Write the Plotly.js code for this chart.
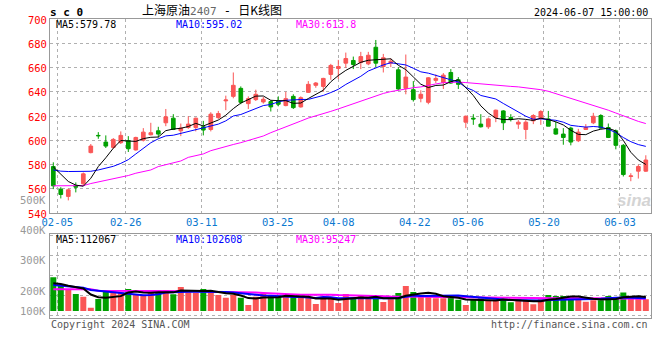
<!DOCTYPE html>
<html><head><meta charset="utf-8">
<script src="https://cdn.plot.ly/plotly-3.0.1.min.js"></script>
<style>html,body{margin:0;padding:0;background:#fff}#chart{width:660px;height:360px}</style>
</head><body><div id="chart"></div>
<script>
// ---------- data ----------
const dates = [
 '2024-02-02','2024-02-05','2024-02-06','2024-02-07','2024-02-08','2024-02-19','2024-02-20','2024-02-21','2024-02-22','2024-02-23',
 '2024-02-26','2024-02-27','2024-02-28','2024-02-29','2024-03-01','2024-03-04','2024-03-05','2024-03-06','2024-03-07','2024-03-08',
 '2024-03-11','2024-03-12','2024-03-13','2024-03-14','2024-03-15','2024-03-18','2024-03-19','2024-03-20','2024-03-21','2024-03-22',
 '2024-03-25','2024-03-26','2024-03-27','2024-03-28','2024-03-29','2024-04-01','2024-04-02','2024-04-03','2024-04-08','2024-04-09',
 '2024-04-10','2024-04-11','2024-04-12','2024-04-15','2024-04-16','2024-04-17','2024-04-18','2024-04-19','2024-04-22','2024-04-23',
 '2024-04-24','2024-04-25','2024-04-26','2024-04-29','2024-04-30','2024-05-06','2024-05-07','2024-05-08','2024-05-09','2024-05-10',
 '2024-05-13','2024-05-14','2024-05-15','2024-05-16','2024-05-17','2024-05-20','2024-05-21','2024-05-22','2024-05-23','2024-05-24',
 '2024-05-27','2024-05-28','2024-05-29','2024-05-30','2024-05-31','2024-06-03','2024-06-04','2024-06-05','2024-06-06','2024-06-07'];

const openP = [578.3,559.7,553.7,562.4,564.1,589.8,604.0,598.5,594.1,598.0,
 599.6,592.0,600.1,604.5,607.8,614.4,618.2,607.8,610.5,610.5,
 611.1,608.9,618.7,632.5,636.2,642.8,630.2,633.5,631.6,631.9,
 632.4,628.6,636.2,627.5,639.5,645.3,644.4,654.3,659.2,663.6,
 665.8,664.1,663.0,676.7,660.8,663.6,658.1,642.8,641.7,634.6,
 631.3,649.4,647.7,655.9,649.9,614.9,618.2,613.3,611.1,618.7,
 624.2,618.7,613.3,608.9,616.0,618.2,617.6,609.4,605.1,610.0,
 599.6,608.9,614.4,620.4,610.5,607.8,595.8,570.1,574.5,574.5];
const highP = [581.8,561.3,560.2,565.2,573.4,596.9,606.7,604.0,601.8,607.3,
 603.4,602.9,610.0,614.4,611.1,625.8,621.5,613.8,619.8,618.7,
 616.0,623.1,624.2,636.8,655.9,644.4,636.2,641.7,635.7,633.0,
 636.2,640.0,637.9,636.2,648.8,648.0,651.5,663.0,666.3,672.3,
 669.0,672.9,672.9,682.7,671.2,667.4,660.3,670.7,648.8,641.2,
 652.1,654.3,655.4,658.7,652.1,620.4,621.5,621.5,618.7,625.3,
 624.8,621.5,616.6,616.6,621.5,624.8,624.2,615.5,610.0,611.1,
 609.4,613.3,622.6,621.5,613.8,608.9,596.9,572.8,579.9,587.6];
const lowP = [559.7,552.0,550.4,557.0,563.0,589.2,601.2,593.6,593.0,596.9,
 590.3,591.4,599.0,604.0,602.3,611.6,608.4,603.4,609.4,607.3,
 604.0,607.3,617.6,624.8,634.6,629.7,625.8,632.4,630.2,623.7,
 628.0,628.0,625.8,626.9,639.0,643.3,640.0,649.9,650.5,659.7,
 658.7,658.7,661.9,660.3,655.9,660.3,641.2,637.9,631.9,631.3,
 629.7,647.2,642.3,646.6,642.3,610.0,612.7,610.5,609.4,614.9,
 608.4,615.5,609.4,600.7,613.3,612.7,611.6,604.5,596.3,595.8,
 598.5,608.4,613.3,609.4,601.8,592.5,570.1,566.2,568.4,573.9];
const closeP = [562.4,555.3,559.1,561.3,572.3,595.2,603.7,595.2,600.7,604.0,
 593.0,602.3,606.7,606.2,605.1,619.3,608.9,610.0,613.3,618.2,
 608.4,621.5,622.0,633.2,645.3,631.3,634.3,637.9,633.8,627.5,
 629.7,634.3,626.9,635.1,646.1,647.2,651.0,661.7,660.8,667.4,
 662.5,669.0,670.1,663.6,668.0,665.2,642.3,652.1,633.5,637.9,
 651.5,651.0,653.7,647.2,646.1,619.8,617.6,611.1,617.6,624.8,
 614.4,617.1,614.9,614.9,620.4,623.7,611.6,605.1,602.3,598.5,
 606.7,610.5,619.8,610.0,602.3,595.8,571.7,570.6,578.3,583.7];

const volume = [270000,208000,176000,136000,114000,26000,96000,154000,168000,150000,
 176000,128000,122000,154000,168000,168000,134000,192000,150000,146000,
 176000,150000,128000,106000,128000,106000,48000,114000,142000,120000,
 122000,114000,114000,114000,106000,56000,114000,106000,64000,136000,
 102000,128000,102000,102000,72000,94000,144000,200000,152000,114000,
 118000,102000,102000,118000,90000,48000,90000,102000,86000,90000,
 90000,70000,94000,80000,54000,94000,128000,120000,120000,120000,
 90000,74000,86000,86000,120000,112000,148000,112000,96000,94000];

// moving-average values before enough history exists
const priceMa5Early = [578,572,566,563];
const priceMa10Early = [575.5,574.5,574.2,574.2,574.2,574.4,575.5,577.0,578.5];
const priceMa30Early = [562.4,562.4,562.4,562.4,562.6,564.3,565.7,566.8,567.9,569.8,570.9,572.8,573.9,575.5,578.3,
 579.9,581.6,582.9,585.9,587.3,588.7,591.4,593.3,595.0,596.5,598.0,599.8,601.5,603.5];
const volMa5Early = [222000,216000,202000,192000];
const volMa10Early = [208000,204000,198000,192000,187000,168000,162000,160000,156000];
const volMa30Early = [174000,174000,174000,174000,174000,174000,162000,162000,162000,162000,162000,162000,162000,
 158000,158000,158000,158000,158000,158000,158000,158000,154000,154000,154000,154000,154000,154000,148000,145000];

const tickLabels = ['02-05','02-26','03-11','03-25','04-08','04-22','05-06','05-20','06-03'];
const maNames = ['MA5','MA10','MA30'];
const priceMaLast = ['579.78','595.02','613.8'];
const volMaLast = ['112067','102608','95247'];
const priceAxisTicks = [540,560,580,600,620,640,660,680,700];
const volAxisLabels = ['500K','400K','300K','200K','100K'];

// ---------- helpers ----------
function sma(vals, n, early){
  return vals.map((v,i)=>{
    if(i < n-1) return early[i];
    let s=0; for(let k=i-n+1;k<=i;k++) s+=vals[k]; return s/n;
  });
}
const idx = dates.map((d,i)=>i);
const tickVals = tickLabels.map(l=>dates.indexOf('2024-'+l));

const RED='#fa5656', GREEN='#00a000', MAG='#ff00ff', BLUE='#0000ff', BLK='#000000';
const MONO='"DejaVu Sans Mono", "Liberation Mono", monospace';
const GRID='#b0b0b0', BORDER='#999999';

const L=50, R=9, T=19, B=42, W=660, H=360;
const pw=W-L-R, ph=H-T-B;
const px=x=>(x-L)/pw, py=y=>(H-B-y)/ph;

const volColors = idx.map(i=> closeP[i]>=openP[i]?RED:GREEN);

const traces = [
 {type:'candlestick', x:idx, open:openP, high:highP, low:lowP, close:closeP,
  increasing:{line:{color:RED,width:1}, fillcolor:RED},
  decreasing:{line:{color:GREEN,width:1}, fillcolor:GREEN},
  whiskerwidth:0, xaxis:'x', yaxis:'y', hoverinfo:'skip', showlegend:false},
 {type:'scatter', mode:'lines', x:idx, y:sma(closeP,30,priceMa30Early), line:{color:MAG,width:1}, xaxis:'x', yaxis:'y', hoverinfo:'skip'},
 {type:'scatter', mode:'lines', x:idx, y:sma(closeP,10,priceMa10Early), line:{color:BLUE,width:1}, xaxis:'x', yaxis:'y', hoverinfo:'skip'},
 {type:'scatter', mode:'lines', x:idx, y:sma(closeP,5,priceMa5Early), line:{color:BLK,width:1}, xaxis:'x', yaxis:'y', hoverinfo:'skip'},
 {type:'bar', x:idx, y:volume, marker:{color:volColors,line:{width:0}}, width:0.8, xaxis:'x2', yaxis:'y2', hoverinfo:'skip'},
 {type:'scatter', mode:'lines', x:idx, y:sma(volume,30,volMa30Early), line:{color:MAG,width:2}, xaxis:'x2', yaxis:'y2', hoverinfo:'skip'},
 {type:'scatter', mode:'lines', x:idx, y:sma(volume,10,volMa10Early), line:{color:BLUE,width:2}, xaxis:'x2', yaxis:'y2', hoverinfo:'skip'},
 {type:'scatter', mode:'lines', x:idx, y:sma(volume,5,volMa5Early), line:{color:BLK,width:2}, xaxis:'x2', yaxis:'y2', hoverinfo:'skip'},
 {type:'scatter', mode:'markers', x:[tickVals[0]], y:[600], marker:{opacity:0}, xaxis:'x3', yaxis:'y', hoverinfo:'skip'},
 {type:'scatter', mode:'markers', x:[tickVals[0]], y:[0], marker:{opacity:0}, xaxis:'x4', yaxis:'y2', hoverinfo:'skip'}
];

const barRange=[-0.44, 79.69];
const gridRange=[0.04, 79.08];
const baseX = {showgrid:false, showticklabels:false, showline:true, mirror:true, linecolor:BORDER, linewidth:1,
  zeroline:false, ticks:'', fixedrange:true, range:barRange, rangeslider:{visible:false}};
const gridX = {showgrid:true, gridcolor:GRID, griddash:'dot', gridwidth:1, showline:false, zeroline:false, ticks:'',
  range:gridRange, tickmode:'array', tickvals:tickVals, ticktext:tickLabels, fixedrange:true};

const annotations = [];
function txt(x,y,text,opts){
  annotations.push(Object.assign({xref:'paper',yref:'paper',x:px(x),y:py(y),text:text,showarrow:false,
    xanchor:'left',yanchor:'middle',borderpad:0,font:{family:MONO,size:10,color:'#000'}},opts||{}));
}
txt(49,12,'<b>s c 0</b>',{font:{family:MONO,size:11,color:'#000'}});
txt(141,9,'上海原油<span style="color:#666;font-family:DejaVu Sans Mono;font-size:11px">2407</span><span style="font-family:DejaVu Sans Mono;font-size:12px"> - </span>日K线图',{font:{family:'"Noto Sans CJK SC"',size:12,color:'#000'}});
txt(649,12,'2024-06-07 15:00:00',{xanchor:'right'});
const maColors=[BLK,BLUE,MAG], maX=[55,175,295];
maNames.forEach((n,k)=>{
  txt(maX[k],24.5,n+':'+priceMaLast[k],{font:{family:MONO,size:10,color:maColors[k]}});
  txt(maX[k],239,n+':'+volMaLast[k],{font:{family:MONO,size:10,color:maColors[k]}});
});
const volLabelY=[200,230,260,290.7,311];
volAxisLabels.forEach((t,k)=>txt(47,volLabelY[k],t,{xanchor:'right',font:{family:MONO,size:10.5,color:'#999'}}));
txt(49.5,324.5,'Copyright 2024 SINA.COM',{font:{family:MONO,size:10,color:'#555'}});
txt(649,324.5,'http://finance.sina.com.cn',{xanchor:'right',font:{family:MONO,size:10,color:'#555'}});
txt(634,200,'<i><b>sina</b></i>',{xanchor:'center',font:{family:'"Liberation Sans", Arial',size:17,color:'#d4d4d4'}});

const layout = {
  width:W, height:H, margin:{l:L,r:R,t:T,b:B,pad:0},
  paper_bgcolor:'#fff', plot_bgcolor:'#fff', showlegend:false, boxgap:0.3,
  font:{family:MONO,size:10.5,color:'#000'},
  xaxis: Object.assign({}, baseX, {anchor:'y', domain:[0,1]}),
  xaxis2: Object.assign({}, baseX, {anchor:'y2', domain:[0,1]}),
  xaxis3: Object.assign({}, gridX, {overlaying:'x', anchor:'y', side:'bottom', ticklabelstandoff:1,
     tickfont:{family:MONO,size:10.5,color:'#0a78d0'}, showticklabels:true}),
  xaxis4: Object.assign({}, gridX, {overlaying:'x2', anchor:'y2', side:'bottom', showticklabels:false}),
  yaxis: {domain:[py(213),1], range:[540,700], tickmode:'array', tickvals:priceAxisTicks, ticktext:priceAxisTicks.map(String),
     showgrid:true, gridcolor:GRID, griddash:'dot', showline:true, mirror:true, linecolor:BORDER, zeroline:false,
     ticks:'', ticklabelshift:1, tickfont:{family:MONO,size:10.5,color:'#ff0000'}, fixedrange:true},
  yaxis2: {domain:[0,py(234)], range:[-56000,616000], tick0:122400, dtick:160000, showticklabels:false,
     showgrid:true, gridcolor:GRID, griddash:'dot', showline:true, mirror:true, linecolor:BORDER, zeroline:false,
     ticks:'', fixedrange:true},
  annotations: annotations
};
Plotly.newPlot('chart', traces, layout, {staticPlot:true, displayModeBar:false});
</script></body></html>
